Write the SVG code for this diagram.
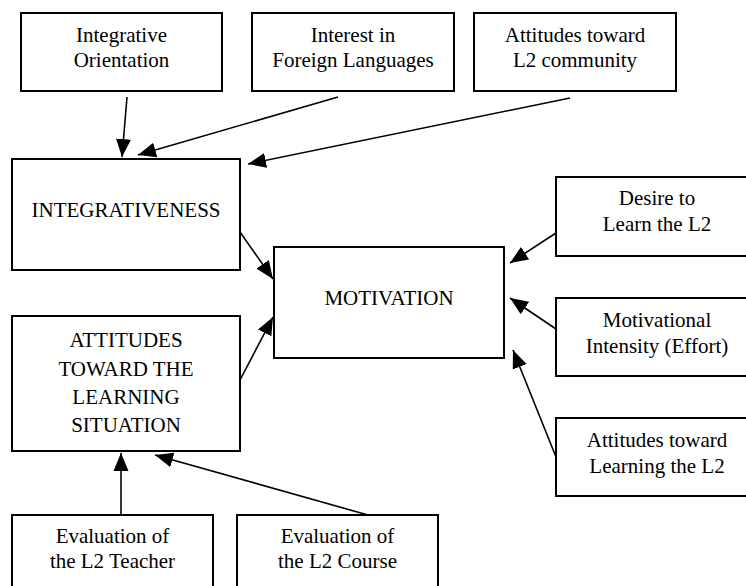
<svg xmlns="http://www.w3.org/2000/svg" width="746" height="586" viewBox="0 0 746 586">
<style>
rect{fill:#fff;stroke:#000;stroke-width:2}
text{font-family:'Liberation Serif','Times New Roman',serif;font-size:21px;fill:#000;text-anchor:middle}
#connectors line{stroke:#000;stroke-width:1.6;marker-end:url(#ah)}
</style>
<defs>
<marker id="ah" markerUnits="userSpaceOnUse" markerWidth="18" markerHeight="16" refX="18" refY="8" orient="auto" viewBox="0 0 18 16">
<path d="M0,0.5 L18,8 L0,15.5 z" fill="#000"/>
</marker>
</defs>
<rect x="-5" y="-5" width="760" height="600" style="stroke:none;fill:#fff"/>
<g id="connectors">
<line x1="127" y1="97" x2="122" y2="157"/>
<line x1="338" y1="97" x2="138" y2="155"/>
<line x1="570" y1="98" x2="248" y2="164"/>
<line x1="240" y1="232" x2="273" y2="279"/>
<line x1="240" y1="380" x2="273" y2="317"/>
<line x1="556" y1="233" x2="510" y2="263"/>
<line x1="556" y1="329" x2="510" y2="298"/>
<line x1="556" y1="457" x2="513" y2="350"/>
<line x1="121" y1="514" x2="121" y2="453"/>
<line x1="368" y1="515" x2="155" y2="455"/>
</g>
<g id="integrative-orientation"><rect x="21" y="13" width="201" height="78"/><text x="121.5" y="42">Integrative</text><text x="121.5" y="67">Orientation</text></g>
<g id="interest-foreign-languages"><rect x="252" y="13" width="202" height="78"/><text x="353" y="42">Interest in</text><text x="353" y="67">Foreign Languages</text></g>
<g id="attitudes-l2-community"><rect x="474" y="13" width="202" height="78"/><text x="575" y="42">Attitudes toward</text><text x="575" y="67">L2 community</text></g>
<g id="integrativeness"><rect x="12" y="159" width="228" height="111"/><text x="126" y="217">INTEGRATIVENESS</text></g>
<g id="motivation"><rect x="274" y="247" width="230" height="111"/><text x="389" y="305">MOTIVATION</text></g>
<g id="attitudes-learning-situation"><rect x="12" y="316" width="228" height="135"/><text x="126" y="347">ATTITUDES</text><text x="126" y="376">TOWARD THE</text><text x="126" y="404">LEARNING</text><text x="126" y="432">SITUATION</text></g>
<g id="desire"><rect x="556" y="177" width="200" height="79"/><text x="657" y="205">Desire to</text><text x="657" y="231">Learn the L2</text></g>
<g id="intensity"><rect x="556" y="298" width="200" height="78"/><text x="657" y="327">Motivational</text><text x="657" y="353">Intensity (Effort)</text></g>
<g id="attitudes-learning-l2"><rect x="556" y="418" width="200" height="78"/><text x="657" y="447">Attitudes toward</text><text x="657" y="473">Learning the L2</text></g>
<g id="evaluation-teacher"><rect x="12" y="515" width="201" height="80"/><text x="112.5" y="543">Evaluation of</text><text x="112.5" y="568">the L2 Teacher</text></g>
<g id="evaluation-course"><rect x="237" y="515" width="201" height="80"/><text x="337.5" y="543">Evaluation of</text><text x="337.5" y="568">the L2 Course</text></g>
</svg>
